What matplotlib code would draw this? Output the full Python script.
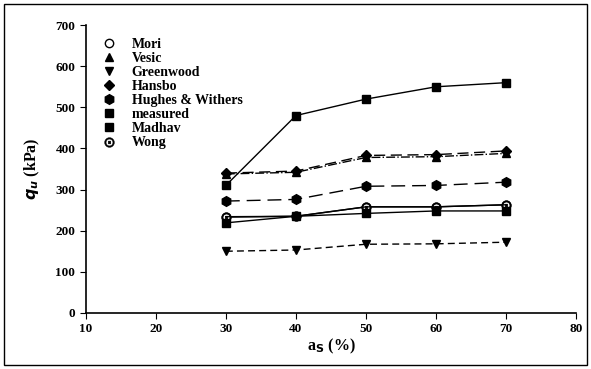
import numpy as np
import matplotlib
matplotlib.use('Agg')
import matplotlib.pyplot as plt
from matplotlib.patches import Rectangle

matplotlib.rc('font', family='Liberation Serif', weight='bold')

a_s = [30, 40, 50, 60, 70]

mori = [233, 235, 258, 258, 263]
vesic = [338, 342, 378, 380, 388]
greenwood = [150, 153, 167, 168, 172]
hansbo = [340, 345, 383, 385, 394]
hughes = [272, 276, 308, 310, 318]
measured = [310, 480, 520, 550, 560]
madhav = [219, 235, 242, 248, 248]
wong = [234, 235, 258, 258, 263]

fig = plt.figure(figsize=(5.91, 3.69), dpi=100)
ax = fig.add_axes([0.145, 0.152, 0.83, 0.78])

ms = 6
ax.plot(a_s, mori, 'k-', lw=1, marker='o', mfc='white', ms=ms)
ax.plot(a_s, vesic, 'k-.', lw=1, marker='^', ms=ms)
ax.plot(a_s, greenwood, 'k--', lw=1, marker='v', ms=ms, dashes=(5, 3))
ax.plot(a_s, hansbo, 'k--', lw=1, marker='D', ms=ms - 1, dashes=(8, 4))
ax.plot(a_s, hughes, 'k--', lw=1, marker='h', ms=ms + 1, dashes=(10, 5))
ax.plot(a_s, measured, 'k-', lw=1, marker='s', ms=ms)
ax.plot(a_s, madhav, 'k-', lw=1, marker='s', ms=ms)
ax.plot(a_s, wong, 'k-', lw=1, marker='$\\odot$', ms=ms + 1, mew=0.3)

# legend shows markers only
labels = ['Mori', 'Vesic', 'Greenwood', 'Hansbo', 'Hughes & Withers',
          'measured', 'Madhav', 'Wong']
handles = [
    plt.Line2D([], [], ls='', marker='o', mfc='white', mec='k', ms=ms),
    plt.Line2D([], [], ls='', marker='^', color='k', ms=ms),
    plt.Line2D([], [], ls='', marker='v', color='k', ms=ms),
    plt.Line2D([], [], ls='', marker='D', color='k', ms=ms - 1),
    plt.Line2D([], [], ls='', marker='h', color='k', ms=ms + 1),
    plt.Line2D([], [], ls='', marker='s', color='k', ms=ms),
    plt.Line2D([], [], ls='', marker='s', color='k', ms=ms),
    plt.Line2D([], [], ls='', marker='$\\odot$', color='k', ms=ms + 1, mew=0.3),
]
ax.legend(handles, labels, loc='upper left', bbox_to_anchor=(0.0, 1.0),
          frameon=False, labelspacing=0.08, handletextpad=0.9, handlelength=1.5,
          prop={'weight': 'bold', 'size': 10, 'stretch': 'expanded'})

ax.set_xlim(10, 80)
ax.set_ylim(0, 700)
ax.set_xticks(range(10, 81, 10))
ax.set_yticks(range(0, 701, 100))
ax.tick_params(labelsize=9.5, length=4, direction='out')
for s in ['top', 'right']:
    ax.spines[s].set_visible(False)
ax.spines['left'].set_linewidth(1.2)
ax.spines['bottom'].set_linewidth(1.2)

ax.set_xlabel(r'a$_\mathbf{S}$ (%)', fontsize=11.5, fontweight='bold', labelpad=1)
ax.set_ylabel(r'$q_u$ (kPa)', fontsize=11.5, fontweight='bold', labelpad=10)

fig.patches.append(Rectangle((0.006, 0.01), 0.988, 0.98, transform=fig.transFigure,
                             fill=False, ec='k', lw=1))

plt.savefig('out.png')
